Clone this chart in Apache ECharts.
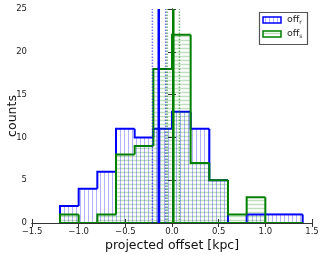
<!DOCTYPE html>
<html><head><meta charset="utf-8">
<script src="https://cdn.jsdelivr.net/npm/echarts@6/dist/echarts.min.js"></script>
<style>html,body{margin:0;padding:0;background:#fff}#c{width:322px;height:255px}</style>
</head><body><div id="c"></div>
<script>
// ---- data ----
const binEdges = [-1.2,-1.0,-0.8,-0.6,-0.4,-0.2,0.0,0.2,0.4,0.6,0.8,1.0,1.2,1.4];
const countsR  = [2,4,6,11,10,11,13,11,5,0,1,1,1];
const countsS  = [1,0,1,8,9,18,22,7,5,1,3,0,0];
const medianR = -0.142, boundsR = [-0.21,-0.068];
const medianS = 0.014,  boundsS = [-0.052,0.08];
const xTicks = [-1.5,-1.0,-0.5,0.0,0.5,1.0,1.5];
const yTicks = [0,5,10,15,20,25];
const seriesNames = ['offr','offs'];

function histData(counts){
  return counts.map((c,i)=>[binEdges[i],binEdges[i+1],c,i>0?counts[i-1]:0,i===counts.length-1?1:0]);
}
const SP = 4;
function makeRender(dir, hatchColor, hatchWidth, edgeColor){
  return function(params, api){
    const x0=api.value(0), x1=api.value(1), c=api.value(2), prev=api.value(3), last=api.value(4);
    const pb=api.coord([x0,0]), pt=api.coord([x1,c]), pp=api.coord([x0,prev]);
    const left=pb[0], right=pt[0], bottom=pb[1], top=pt[1];
    const ch=[];
    if(c>0){
      if(dir==='v'){
        for(let x=Math.ceil(left/SP)*SP+0.5; x<right; x+=SP)
          ch.push({type:'line',shape:{x1:x,y1:top,x2:x,y2:bottom},style:{stroke:hatchColor,lineWidth:hatchWidth}});
      } else {
        for(let y=Math.ceil(top/SP)*SP+0.5; y<bottom; y+=SP)
          ch.push({type:'line',shape:{x1:left,y1:y,x2:right,y2:y},style:{stroke:hatchColor,lineWidth:hatchWidth}});
      }
    }
    ch.push({type:'polyline',shape:{points:[[left,pp[1]],[left,top],[right,top]]},style:{stroke:edgeColor,lineWidth:2,fill:null}});
    ch.push({type:'line',shape:{x1:left,y1:bottom,x2:right,y2:bottom},style:{stroke:edgeColor,lineWidth:2}});
    if(last) ch.push({type:'line',shape:{x1:right,y1:top,x2:right,y2:bottom},style:{stroke:edgeColor,lineWidth:2}});
    return {type:'group',children:ch};
  };
}
function vline(x, color, width, type, z){
  return {type:'line',data:[[x,0],[x,25]],showSymbol:false,symbol:'none',silent:true,z:z,
    lineStyle:{color:color,width:width,type:type},xAxisIndex:0,yAxisIndex:0};
}
const fmt = v => (v<0?'\u2212':'')+Math.abs(v).toFixed(1);
const axisCol = '#333';
const chart = echarts.init(document.getElementById('c'));
const hatchV = (x,y,w,h)=>{const a=[];for(let xx=x+2.5;xx<x+w;xx+=SP)a.push({type:'line',shape:{x1:xx,y1:y,x2:xx,y2:y+h},style:{stroke:'rgba(0,0,255,0.3)',lineWidth:1}});return a;};
const hatchH = (x,y,w,h)=>{const a=[];for(let yy=y+2.5;yy<y+h;yy+=SP)a.push({type:'line',shape:{x1:x,y1:yy,x2:x+w,y2:yy},style:{stroke:'rgba(0,128,0,0.25)',lineWidth:1.5}});return a;};
chart.setOption({
  animation:false,
  grid:{left:32,right:10,top:9,bottom:32,containLabel:false,outerBoundsMode:'none'},
  xAxis:[
    {type:'value',min:-1.5,max:1.5,interval:0.5,position:'bottom',
     name:'projected offset [kpc]',nameLocation:'middle',nameGap:16,nameMoveOverlap:false,
     nameTextStyle:{fontFamily:'DejaVu Sans',fontSize:12.5,color:'#111'},
     axisLine:{show:true,lineStyle:{color:axisCol,width:1}},
     axisTick:{show:true,inside:true,length:4,lineStyle:{color:axisCol}},
     axisLabel:{formatter:fmt,fontFamily:'DejaVu Sans',fontSize:8.5,color:'#222',margin:4},
     splitLine:{show:false}},
    {type:'value',min:-1.5,max:1.5,interval:0.5,position:'top',
     axisLine:{show:true,lineStyle:{color:axisCol,width:1}},
     axisTick:{show:true,inside:true,length:4,lineStyle:{color:axisCol}},
     axisLabel:{show:false},splitLine:{show:false}}
  ],
  yAxis:[
    {type:'value',min:0,max:25,interval:5,position:'left',
     name:'counts',nameLocation:'middle',nameGap:13,nameMoveOverlap:false,
     nameTextStyle:{fontFamily:'DejaVu Sans',fontSize:12.5,color:'#111'},
     axisLine:{show:true,lineStyle:{color:axisCol,width:1}},
     axisTick:{show:true,inside:true,length:4,lineStyle:{color:axisCol}},
     axisLabel:{fontFamily:'DejaVu Sans',fontSize:8.5,color:'#222',margin:5},
     splitLine:{show:false}},
    {type:'value',min:0,max:25,interval:5,position:'right',
     axisLine:{show:true,lineStyle:{color:axisCol,width:1}},
     axisTick:{show:true,inside:true,length:4,lineStyle:{color:axisCol}},
     axisLabel:{show:false},splitLine:{show:false}}
  ],
  series:[
    {type:'custom',name:seriesNames[0],data:histData(countsR),renderItem:makeRender('v','rgba(0,0,255,0.3)',1,'#0000ff'),z:2,clip:true},
    {type:'custom',name:seriesNames[1],data:histData(countsS),renderItem:makeRender('h','rgba(0,128,0,0.25)',1.5,'#008000'),z:3,clip:true},
    vline(boundsR[0],'rgba(0,0,255,0.55)',1.5,[1.5,1.5],4),
    vline(boundsR[1],'rgba(0,0,255,0.55)',1.5,[1.5,1.5],4),
    vline(boundsS[0],'rgba(0,128,0,0.55)',1.5,[1.5,1.5],4),
    vline(boundsS[1],'rgba(0,128,0,0.55)',1.5,[1.5,1.5],4),
    vline(medianR,'#0000ff',2.5,'solid',5),
    vline(medianS,'#008000',2.5,'solid',5)
  ],
  graphic:[
    {type:'group',x:0,y:0,z:100,children:[
      {type:'rect',shape:{x:259.5,y:12.5,width:48,height:32},style:{fill:'#fff',stroke:'#555',lineWidth:1.2}},
      ...hatchV(263,17,18,6),
      {type:'rect',shape:{x:263,y:17,width:18,height:6},style:{fill:null,stroke:'#0000ff',lineWidth:1.5}},
      ...hatchH(263,31,18,6),
      {type:'rect',shape:{x:263,y:31,width:18,height:6},style:{fill:null,stroke:'#008000',lineWidth:1.5}},
      {type:'text',x:287,y:20,style:{text:'{a|off}{b|r}',verticalAlign:'middle',
        rich:{a:{fontFamily:'DejaVu Sans',fontSize:9.5,fill:'#222'},b:{fontFamily:'DejaVu Sans',fontSize:6,fill:'#222',padding:[5,0,0,0]}}}},
      {type:'text',x:287,y:34,style:{text:'{a|off}{b|s}',verticalAlign:'middle',
        rich:{a:{fontFamily:'DejaVu Sans',fontSize:9.5,fill:'#222'},b:{fontFamily:'DejaVu Sans',fontSize:6,fill:'#222',padding:[5,0,0,0]}}}}
    ]}
  ]
});
</script></body></html>
